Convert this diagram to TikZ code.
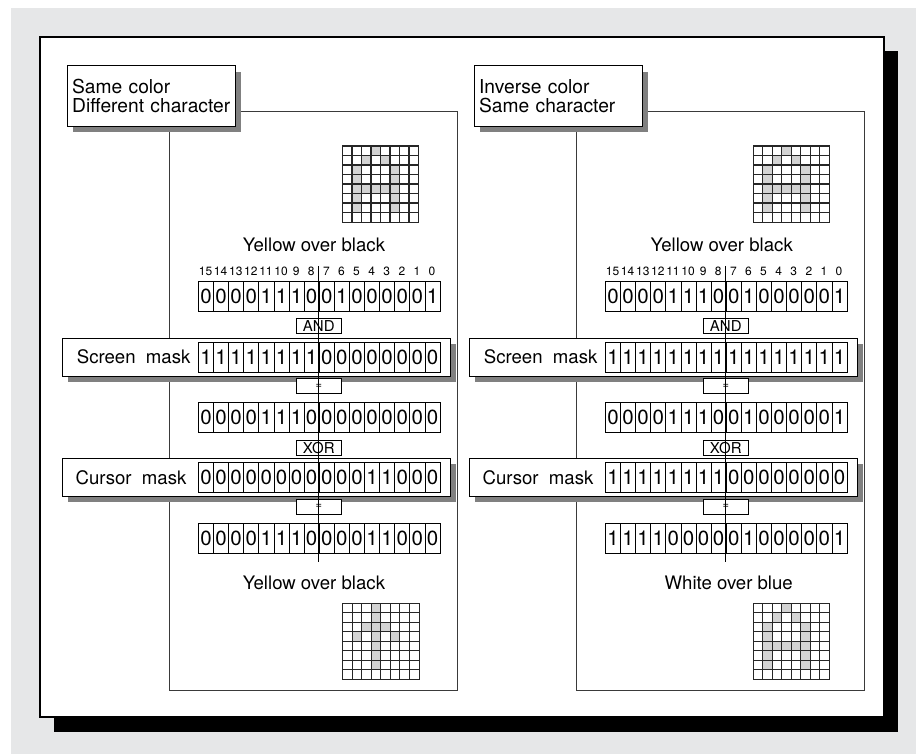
\documentclass[tikz,border=0pt]{standalone}
\usepackage{fontspec}
\setmainfont{TeX Gyre Heros}
\usetikzlibrary{shadows}
\definecolor{bggrey}{HTML}{E6E7E8}
\definecolor{shgrey}{HTML}{808080}
\definecolor{cellgrey}{HTML}{D3D3D3}
\definecolor{linegrey}{HTML}{3A3A3A}
\newcommand\bitrow[4]{\foreach \bv [count=\ii from 0] in {#4}{\node[cell] (#1-\ii) at ({#2+\ii*15.1},#3) {\bv};}}
\newcommand\chargrid[4]{%
  \node[gridframe] (#1) at (#2,#3) {};
  \foreach \cc/\rr in {#4}{\fill[cellgrey] ({#2+\cc*9.5},{#3+\rr*9.5}) rectangle +(9.5,9.5);}
  \foreach \kk in {1,...,7}{\draw[gridline] ({#2+\kk*9.5},#3) -- +(0,76); \draw[gridline] (#2,{#3+\kk*9.5}) -- +(76,0);}
  \draw[gridline] (#1.north west) rectangle (#1.south east);}
\newcommand\header[1]{\foreach \nn [count=\ii from 0] in {15,14,...,0}{\node[hdr] (#1-\ii) at ({198+(\ii+0.5)*15.1},271.7) {\nn};}}
\tikzset{
  cell/.style={draw=black, line width=0.8pt, minimum width=15.1pt, minimum height=30pt, inner sep=0pt, anchor=north west, font=\fontsize{20.5}{20.5}\selectfont},
  hdr/.style={font=\fontsize{12}{12}\selectfont, inner sep=0pt},
  opbox/.style={draw=black, fill=white, line width=0.8pt, minimum width=45pt, minimum height=15pt, inner sep=0pt, font=\fontsize{15}{15}\selectfont},
  eqbox/.style={opbox, font=\fontsize{11}{11}\selectfont},
  shadowed/.style={drop shadow={shadow xshift=6pt, shadow yshift=-6pt, fill=shgrey, opacity=1}},
  tagbox/.style={shadowed, draw=black, fill=white, line width=0.9pt, anchor=north west, minimum height=60.4pt, text width=158pt, inner xsep=5pt, inner ysep=0pt, align=left, font=\fontsize{19.2}{18.5}\selectfont},
  maskbox/.style={shadowed, draw=black, fill=white, line width=0.9pt, anchor=north west, minimum width=387.5pt, minimum height=38pt, inner sep=0pt},
  masktext/.style={anchor=west, inner sep=0pt, font=\fontsize{18.6}{18.6}\selectfont},
  capt/.style={inner sep=0pt, font=\fontsize{18.6}{18.6}\selectfont},
  gridframe/.style={minimum width=76pt, minimum height=76pt, inner sep=0pt, anchor=north west},
  gridline/.style={draw=black!85, line width=1.1pt},
  panel/.style={draw=linegrey, line width=0.9pt},
  wire/.style={draw=black, line width=0.9pt}
}
\begin{document}
\begin{tikzpicture}[x=1pt,y=-1pt]
\useasboundingbox (0,0) rectangle (916,754);
\fill[white] (0,0) rectangle (916,754);
\fill[bggrey] (11,8) rectangle (916,754);
\fill[black] (54,51) rectangle (898,732);
\draw[fill=white, line width=2pt] (40,37) rectangle (884,717);
% ---------------- left panel ----------------
\draw[panel] (169,126) -- (169,690.7) -- (457,690.7) -- (457,111) -- (234.7,111);
\node[tagbox] (tagL) at (66.7,65.3) {Same color\\Different character};
\chargrid{gtL}{342.5}{146}{3/0,2/1,4/1,1/2,5/2,1/3,5/3,1/4,2/4,3/4,4/4,5/4,1/5,5/5,1/6,5/6}
\node[capt] (cL1) at (314,245) {Yellow over black};
\header{hL}
\bitrow{r1L}{198}{281}{0,0,0,0,1,1,1,0,0,1,0,0,0,0,0,1}
\node[maskbox] (smL) at (62,338) {};
\node[masktext] (smLt) at (76.7,357) {Screen\ \ mask};
\bitrow{smLc}{198}{342}{1,1,1,1,1,1,1,1,0,0,0,0,0,0,0,0}
\node[opbox] (andL) at (318.8,325.7) {AND};
\node[eqbox] (eq1L) at (318.8,386) {=};
\bitrow{r3L}{198}{402}{0,0,0,0,1,1,1,0,0,0,0,0,0,0,0,0}
\node[opbox] (xorL) at (318.8,448) {XOR};
\node[maskbox] (cmL) at (62,458) {};
\node[masktext] (cmLt) at (75.5,477.5) {Cursor\ \ mask};
\bitrow{cmLc}{198}{462}{0,0,0,0,0,0,0,0,0,0,0,1,1,0,0,0}
\node[eqbox] (eq2L) at (318.8,506.8) {=};
\bitrow{r5L}{198}{523}{0,0,0,0,1,1,1,0,0,0,0,1,1,0,0,0}
\coordinate (wLt) at (318.8,266);
\coordinate (wLb) at (318.8,562);
\draw[wire] (wLt) -- (wLb);
\node[capt] (cL2) at (314,583.3) {Yellow over black};
\chargrid{gbL}{342.7}{603.3}{3/0,3/1,2/2,3/2,4/2,1/3,3/3,5/3,3/4,3/5,3/6}
% ---------------- right panel ----------------
\begin{scope}[xshift=407pt]
\draw[panel] (169,126) -- (169,690.7) -- (457,690.7) -- (457,111) -- (234.7,111);
\node[tagbox] (tagR) at (66.7,65.3) {Inverse color\\Same character};
\chargrid{gtR}{346.3}{146}{3/0,2/1,4/1,1/2,5/2,1/3,5/3,1/4,2/4,3/4,4/4,5/4,1/5,5/5,1/6,5/6}
\node[capt] (cR1) at (314.7,245) {Yellow over black};
\header{hR}
\bitrow{r1R}{198}{281}{0,0,0,0,1,1,1,0,0,1,0,0,0,0,0,1}
\node[maskbox] (smR) at (62,338) {};
\node[masktext] (smRt) at (76.7,357) {Screen\ \ mask};
\bitrow{smRc}{198}{342}{1,1,1,1,1,1,1,1,1,1,1,1,1,1,1,1}
\node[opbox] (andR) at (318.8,325.7) {AND};
\node[eqbox] (eq1R) at (318.8,386) {=};
\bitrow{r3R}{198}{402}{0,0,0,0,1,1,1,0,0,1,0,0,0,0,0,1}
\node[opbox] (xorR) at (318.8,448) {XOR};
\node[maskbox] (cmR) at (62,458) {};
\node[masktext] (cmRt) at (75.5,477.5) {Cursor\ \ mask};
\bitrow{cmRc}{198}{462}{1,1,1,1,1,1,1,1,0,0,0,0,0,0,0,0}
\node[eqbox] (eq2R) at (318.8,506.8) {=};
\bitrow{r5R}{198}{523}{1,1,1,1,0,0,0,0,0,1,0,0,0,0,0,1}
\coordinate (wRt) at (318.8,266);
\coordinate (wRb) at (318.8,562);
\draw[wire] (wRt) -- (wRb);
\node[capt] (cR2) at (321.7,583.3) {White over blue};
\chargrid{gbR}{346.3}{603.3}{3/0,2/1,4/1,1/2,5/2,1/3,5/3,1/4,2/4,3/4,4/4,5/4,1/5,5/5,1/6,5/6}
\end{scope}
\end{tikzpicture}
\end{document}
